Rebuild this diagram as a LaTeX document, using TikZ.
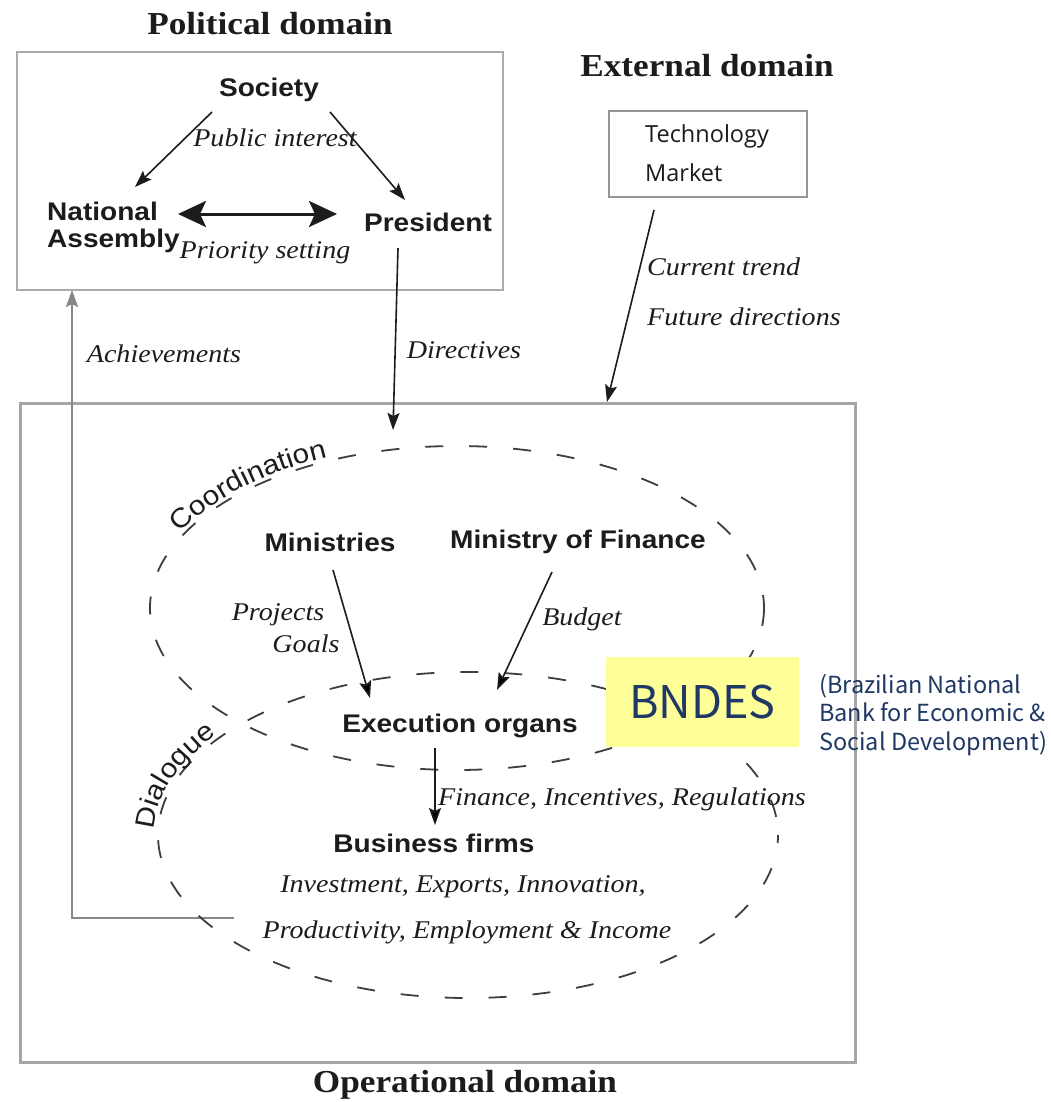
\documentclass[tikz,border=0pt]{standalone}
\usepackage{fontspec}
\setmainfont{Liberation Serif}
\newfontfamily\lsans{Liberation Sans}[FakeStretch=1.1]
\newfontfamily\lserif{Liberation Serif}[FakeStretch=1.1]
\newfontfamily\osans{Open Sans}
\newfontfamily\jsans{Noto Sans CJK JP}
\usetikzlibrary{arrows.meta,decorations.text}

\definecolor{boxgray}{RGB}{150,150,150}
\definecolor{ink}{RGB}{28,28,28}
\definecolor{notey}{RGB}{255,255,153}
\definecolor{navy}{RGB}{31,56,100}

\tikzset{
  title/.style={font=\lserif\bfseries\fontsize{32}{36}\selectfont, text=ink, inner sep=0pt},
  actor/.style={font=\lsans\bfseries\fontsize{25.5}{27}\selectfont, text=ink, inner sep=0pt},
  flow/.style={font=\lserif\itshape\fontsize{25.5}{28}\selectfont, text=ink, inner sep=0pt},
  arr/.style={draw=ink, line width=1.6pt, -{Stealth[length=17pt,width=12pt,inset=3pt]}},
  bigarr/.style={draw=ink, line width=3pt,
    {Stealth[length=28pt,width=26pt,inset=6pt]}-{Stealth[length=28pt,width=26pt,inset=6pt]}},
  feedback/.style={draw=boxgray!90!black, line width=2.5pt, -{Stealth[length=17pt,width=12pt,inset=3pt]}},
  zone/.style={draw=ink!85, line width=1.8pt, dash pattern=on 18pt off 26pt},
  arclabel/.style={decorate, decoration={text along path, text align=center, text color=ink,
    text={|\lsans\fontsize{27}{30}\selectfont|#1}}},
}

\begin{document}
\begin{tikzpicture}[x=1pt,y=-1pt]
\useasboundingbox (0,0) rectangle (1051,1102);
\fill[white] (0,0) rectangle (1051,1102);

% ---------------- Political domain ----------------
\node[title, anchor=base] (poltitle) at (270,35) {Political domain};
\node[draw=boxgray!80, line width=1.5pt, inner sep=0pt,
      minimum width=486pt, minimum height=238pt] (polbox) at (260,171) {};

\node[actor, anchor=base] (soc) at (269,97) {Society};
% multi-line nodes: the base anchor sits on the last line
\node[actor, anchor=base west, align=left] (na) at (47,247) {National\\Assembly};
\node[actor, anchor=base] (pres) at (428,231) {President};
\node[flow, anchor=base] (pubint) at (275,147) {Public interest};
\node[flow, anchor=base] (prio) at (265,258) {Priority setting};

\coordinate (socL) at (212,112);
\coordinate (socR) at (330,112);
\coordinate (naIn) at (135,187);
\coordinate (presIn) at (405,200);
\coordinate (naSide) at (178,214);
\coordinate (presSide) at (337,214);
\draw[arr] (socL) -- (naIn);
\draw[arr] (socR) -- (presIn);
\draw[bigarr] (naSide) -- (presSide);

% ---------------- External domain ----------------
\node[title, anchor=base] (exttitle) at (707,77) {External domain};
\node[draw=boxgray, line width=2.5pt, inner sep=0pt,
      minimum width=198pt, minimum height=86pt] (techbox) at (708,154) {};
\node[font=\osans\fontsize{23.5}{27}\selectfont, text=ink, inner sep=0pt, anchor=base west]
  (tech) at (645,143) {Technology};
\node[font=\osans\fontsize{23.5}{27}\selectfont, text=ink, inner sep=0pt, anchor=base west]
  (market) at (645,182) {Market};
\node[flow, anchor=base west] (trend) at (647,275) {Current trend};
\node[flow, anchor=base west] (future) at (647,325) {Future directions};

% ---------------- Operational domain ----------------
\node[draw=boxgray!85, line width=3pt, inner sep=0pt,
      minimum width=835pt, minimum height=659pt] (opbox) at (437.5,732.5) {};
\node[title, anchor=base] (optitle) at (465,1092) {Operational domain};

% links between the domains
\coordinate (presOut) at (398,248);
\coordinate (opIn) at (393,430);
\draw[arr] (presOut) -- (opIn);
\node[flow, anchor=base] (dir) at (464,358) {Directives};

\coordinate (techOut) at (654,210);
\coordinate (opTop) at (607,402);
\draw[arr] (techOut) -- (opTop);

\coordinate (firmsOut) at (234,918);
\coordinate (bend) at (72,918);
\coordinate (naBelow) at (72,290);
\draw[feedback] (firmsOut) -- (bend) -- (naBelow);
\node[flow, anchor=base] (achv) at (164,362) {Achievements};

% coordination and dialogue zones
\draw[zone] (457,608) ellipse[x radius=307, y radius=162];
\draw[zone, dash phase=10pt] (468,835) ellipse[x radius=310, y radius=163];
\path[arclabel=Coordination] (457,608) ++(190:311 and 166)
  arc[start angle=190, end angle=256, x radius=311, y radius=166];
\path[arclabel=Dialogue] (468,835) ++(160:314 and 167)
  arc[start angle=160, end angle=232, x radius=314, y radius=167];

\node[actor, anchor=base] (min) at (330,551) {Ministries};
\node[actor, anchor=base] (mof) at (578,548) {Ministry of Finance};
\node[actor, anchor=base] (exec) at (460,732) {Execution organs};
\node[actor, anchor=base] (firms) at (434,852) {Business firms};

\node[flow, anchor=base] (proj) at (278,620) {Projects};
\node[flow, anchor=base] (goals) at (306,652) {Goals};
\node[flow, anchor=base] (budget) at (582,625) {Budget};
\node[flow, anchor=base west] (fin) at (438,805) {Finance, Incentives, Regulations};
\node[flow, anchor=base] (out1) at (463,892) {Investment, Exports, Innovation,};
\node[flow, anchor=base] (out2) at (467,938) {Productivity, Employment \& Income};

\coordinate (minOut) at (333,570);
\coordinate (execL) at (370,698);
\coordinate (mofOut) at (552,572);
\coordinate (execR) at (497,690);
\coordinate (execOut) at (435,748);
\coordinate (firmsIn) at (435,825);
\draw[arr] (minOut) -- (execL);
\draw[arr] (mofOut) -- (execR);
\draw[arr] (execOut) -- (firmsIn);

% ---------------- BNDES note ----------------
\node[fill=notey, inner sep=0pt, minimum width=193pt, minimum height=90pt,
      font=\jsans\fontsize{45}{50}\selectfont, text=navy] (bndes) at (702.5,702) {BNDES};
\node[font=\jsans\fontsize{23.5}{28.5}\selectfont, text=navy, inner sep=0pt,
      anchor=base west, align=left] (bndesname) at (819,750)
  {(Brazilian National\\Bank for Economic \&\\Social Development)};
\end{tikzpicture}
\end{document}
